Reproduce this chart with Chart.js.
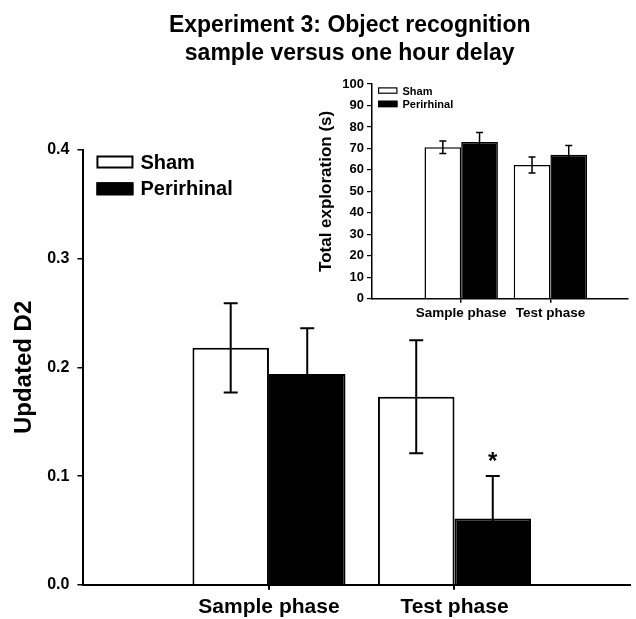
<!DOCTYPE html>
<html>
<head>
<meta charset="utf-8">
<script src="https://cdn.jsdelivr.net/npm/chart.js@4.4.1/dist/chart.umd.min.js"></script>
<style>
  html, body { margin: 0; padding: 0; background: #fff; }
  #main { position: absolute; left: 0; top: 0; width: 636px; height: 619px; }
  #inset { position: absolute; left: 310px; top: 70px; width: 326px; height: 260px; }
</style>
</head>
<body>
<div id="main"><canvas id="c1"></canvas></div>
<div id="inset"><canvas id="c2"></canvas></div>
<script>
// ---------- data ----------
const phases = ['Sample phase', 'Test phase'];
const groups = ['Sham', 'Perirhinal'];
const groupFill = ['#ffffff', '#000000'];

// Main chart: Updated D2
const d2Sham = [0.218, 0.173];
const d2ShamErr = [0.041, 0.052];
const d2Peri = [0.194, 0.061];
const d2PeriErr = [0.042, 0.039];
const d2PeriSig = ['', '*'];
const d2Ticks = [0, 0.1, 0.2, 0.3, 0.4];

// Inset chart: Total exploration (s)
const expSham = [70.6, 62.3];
const expShamErr = [2.9, 3.7];
const expPeri = [73.0, 67.1];
const expPeriErr = [4.4, 4.3];
const expTicks = [0, 10, 20, 30, 40, 50, 60, 70, 80, 90, 100];

const FONT = "'Liberation Sans', Arial, Helvetica, sans-serif";
Chart.defaults.font.family = FONT;
Chart.defaults.font.weight = 'bold';
Chart.defaults.color = '#000';

const toPoints = vals => vals.map((v, i) => ({ x: i + 1, y: v }));

// ---------- plugins ----------
const errorBars = {
  id: 'errorBars',
  afterDatasetsDraw(chart, args, o) {
    const { ctx } = chart;
    const y = chart.scales.y;
    ctx.save();
    chart.data.datasets.forEach((ds, di) => {
      const meta = chart.getDatasetMeta(di);
      meta.data.forEach((el, i) => {
        const v = ds.data[i].y, e = ds.errors[i];
        const yt = y.getPixelForValue(v + e), yb = y.getPixelForValue(v - e);
        ctx.strokeStyle = '#000';
        ctx.lineWidth = o.lineWidth;
        ctx.beginPath();
        ctx.moveTo(el.x, yt); ctx.lineTo(el.x, yb);
        ctx.moveTo(el.x - o.cap / 2, yt); ctx.lineTo(el.x + o.cap / 2, yt);
        ctx.moveTo(el.x - o.cap / 2, yb); ctx.lineTo(el.x + o.cap / 2, yb);
        ctx.stroke();
        if (ds.sig && ds.sig[i]) {
          ctx.fillStyle = '#000';
          ctx.font = 'bold ' + o.sigSize + 'px ' + FONT;
          ctx.textAlign = 'center';
          ctx.textBaseline = 'alphabetic';
          ctx.fillText(ds.sig[i], el.x, yt - o.sigGap);
        }
      });
    });
    ctx.restore();
  }
};

const boxLegend = {
  id: 'boxLegend',
  afterDraw(chart, args, o) {
    const { ctx, chartArea } = chart;
    ctx.save();
    chart.data.datasets.forEach((ds, i) => {
      const x = chartArea.left + o.dx;
      const y = chartArea.top + o.dy + i * o.row;
      ctx.fillStyle = ds.backgroundColor;
      ctx.fillRect(x, y, o.w, o.h);
      ctx.lineWidth = o.lw;
      ctx.strokeStyle = '#000';
      ctx.strokeRect(x + o.lw / 2, y + o.lw / 2, o.w - o.lw, o.h - o.lw);
      ctx.fillStyle = '#000';
      ctx.font = 'bold ' + o.size + 'px ' + FONT;
      ctx.textAlign = 'left';
      ctx.textBaseline = 'middle';
      ctx.fillText(ds.label, x + o.w + o.gap, y + o.h / 2 + 1);
    });
    ctx.restore();
  }
};

// nudge the (chart-area wide) title block sideways
const titleShift = {
  id: 'titleShift',
  afterLayout(chart, args, o) {
    const t = chart.titleBlock;
    if (t && o.dx) { t.left += o.dx; t.right += o.dx; }
  }
};

function makeDatasets(shamVals, shamErr, periVals, periErr, periSig) {
  return [
    { label: groups[0], data: toPoints(shamVals), errors: shamErr,
      backgroundColor: groupFill[0], borderColor: '#000' },
    { label: groups[1], data: toPoints(periVals), errors: periErr, sig: periSig,
      backgroundColor: groupFill[1], borderColor: '#000' }
  ];
}

function xScale(max, tickLen, pad, size, lw) {
  return {
    type: 'linear', min: 0, max: max, offset: false,
    afterBuildTicks: s => { s.ticks = phases.map((p, i) => ({ value: i + 1 })); },
    ticks: { callback: v => phases[v - 1] || '', padding: pad, font: { size: size, weight: 'bold' },
             maxRotation: 0, autoSkip: false, color: '#000' },
    grid: { display: true, drawOnChartArea: false, drawTicks: true, tickLength: tickLen,
            color: '#000', lineWidth: lw, offset: false },
    border: { display: true, color: '#000', width: lw }
  };
}

// ---------- main chart ----------
new Chart(document.getElementById('c1'), {
  type: 'bar',
  data: { datasets: makeDatasets(d2Sham, d2ShamErr, d2Peri, d2PeriErr, d2PeriSig) },
  options: {
    responsive: true, maintainAspectRatio: false, animation: false,
    layout: { padding: { left: 4, right: 6, top: 0, bottom: -6 } },
    datasets: { bar: { categoryPercentage: 0.825, barPercentage: 1, borderWidth: 2, borderSkipped: 'start' } },
    scales: {
      x: xScale(2.946, 5, 5, 21, 2),
      y: {
        min: 0, max: 0.4,
        afterBuildTicks: s => { s.ticks = d2Ticks.map(v => ({ value: v })); },
        ticks: { callback: v => Number(v).toFixed(1), padding: 8, font: { size: 16, weight: 'bold' }, color: '#000' },
        grid: { display: true, drawOnChartArea: false, drawTicks: true, tickLength: 6, color: '#000', lineWidth: 1.5 },
        border: { display: true, color: '#000', width: 2 },
        title: { display: true, text: 'Updated D2', font: { size: 24, weight: 'bold', lineHeight: 1.2 },
                 padding: { top: 6, bottom: 0.4 }, color: '#000' }
      }
    },
    plugins: {
      legend: { display: false },
      tooltip: { enabled: false },
      title: {
        display: true, fullSize: false,
        text: ['Experiment 3: Object recognition', 'sample versus one hour delay'],
        font: { size: 23, weight: 'bold', lineHeight: 1.25 }, color: '#000',
        padding: { top: 11, bottom: 81.5 }
      },
      titleShift: { dx: -7 },
      errorBars: { lineWidth: 2, cap: 14, sigSize: 24, sigGap: 7 },
      boxLegend: { dx: 13, dy: 5.5, row: 26.8, w: 37, h: 13, lw: 2, gap: 7, size: 20 }
    }
  },
  plugins: [errorBars, boxLegend, titleShift]
});

// ---------- inset chart ----------
new Chart(document.getElementById('c2'), {
  type: 'bar',
  data: { datasets: makeDatasets(expSham, expShamErr, expPeri, expPeriErr, null) },
  options: {
    responsive: true, maintainAspectRatio: false, animation: false,
    layout: { padding: { left: 2, right: 8, top: 14, bottom: 7 } },
    datasets: { bar: { categoryPercentage: 0.823, barPercentage: 1, borderWidth: 1.5, borderSkipped: 'start' } },
    scales: {
      x: xScale(2.87, 4, 2, 13.5, 1.5),
      y: {
        min: 0, max: 100,
        afterBuildTicks: s => { s.ticks = expTicks.map(v => ({ value: v })); },
        ticks: { padding: 3, font: { size: 13, weight: 'bold' }, color: '#000' },
        grid: { display: true, drawOnChartArea: false, drawTicks: true, tickLength: 5, color: '#000', lineWidth: 1.2 },
        border: { display: true, color: '#000', width: 1.5 },
        title: { display: true, text: 'Total exploration (s)', font: { size: 17, weight: 'bold', lineHeight: 1.2 },
                 padding: { top: 4.5, bottom: 2.4 }, color: '#000' }
      }
    },
    plugins: {
      legend: { display: false },
      tooltip: { enabled: false },
      title: { display: false },
      errorBars: { lineWidth: 1.5, cap: 7, sigSize: 14, sigGap: 3 },
      boxLegend: { dx: 6, dy: 3.3, row: 13.4, w: 19.5, h: 6.5, lw: 1.2, gap: 5, size: 11 }
    }
  },
  plugins: [errorBars, boxLegend]
});
</script>
</body>
</html>
